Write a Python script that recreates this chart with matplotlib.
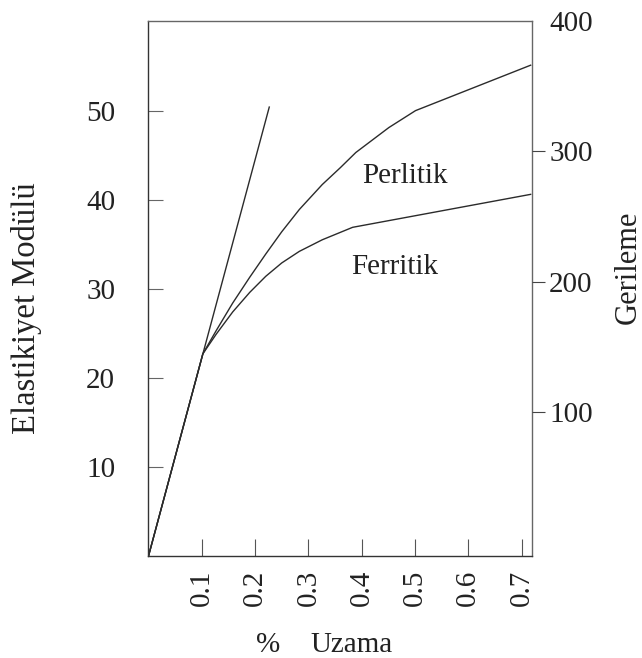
import matplotlib
matplotlib.use('Agg')
import matplotlib.pyplot as plt

plt.rcParams['font.family'] = ['Liberation Serif', 'DejaVu Serif']

# Elastic line (origin to end of the linear portion)
linear_x = [0.0, 0.2266]
linear_y = [0.0, 50.4]

# Perlitic cast iron
perlitik_x = [0.0, 0.102, 0.127, 0.158, 0.190, 0.220, 0.250, 0.283, 0.326, 0.360,
              0.389, 0.420, 0.451, 0.501, 0.717]
perlitik_y = [0.0, 22.7, 25.3, 28.4, 31.3, 33.9, 36.4, 38.9, 41.7, 43.6,
              45.3, 46.7, 48.1, 50.0, 55.1]

# Ferritic cast iron
ferritik_x = [0.0, 0.102, 0.127, 0.158, 0.190, 0.220, 0.250, 0.283, 0.326, 0.383, 0.717]
ferritik_y = [0.0, 22.7, 24.9, 27.4, 29.6, 31.4, 32.9, 34.2, 35.5, 36.9, 40.6]

x_ticks = [0.1, 0.2, 0.3, 0.4, 0.5, 0.6, 0.7]
left_ticks = [10, 20, 30, 40, 50]
right_ticks = [100, 200, 300, 400]

FS = 21
line_color = '#2b2b2b'

fig = plt.figure(figsize=(6.42, 6.58), dpi=100)
ax = fig.add_axes([0.2313, 0.1550, 0.5969, 0.8136])

ax.plot(linear_x, linear_y, color=line_color, lw=1.0)
ax.plot(perlitik_x, perlitik_y, color=line_color, lw=1.0)
ax.plot(ferritik_x, ferritik_y, color=line_color, lw=1.0)

ax.set_xlim(0, 0.719)
ax.set_ylim(0, 60.1)

ax.set_xticks(x_ticks)
ax.set_xticklabels([f'{v:.1f}' for v in x_ticks], rotation=90, fontsize=FS)
ax.set_yticks(left_ticks)
ax.set_yticklabels([str(v) for v in left_ticks], fontsize=FS)
ax.tick_params(axis='x', direction='in', length=12.2, width=0.8, color='#555555',
               pad=10, labelcolor='#222222')
ax.tick_params(axis='y', direction='in', length=10.8, width=0.8, color='#666666',
               pad=24, labelcolor='#222222')

for side in ['left', 'bottom']:
    ax.spines[side].set_color('#333333')
    ax.spines[side].set_linewidth(1.0)
for side in ['top', 'right']:
    ax.spines[side].set_color('#666666')
    ax.spines[side].set_linewidth(1.0)

# secondary stress scale on the right
ax2 = ax.twinx()
ax2.set_ylim(-10, 400)
ax2.set_yticks(right_ticks)
ax2.set_yticklabels([str(v) for v in right_ticks], fontsize=FS)
ax2.tick_params(axis='y', direction='out', length=9.6, width=0.8, color='#444444',
                pad=3, labelcolor='#222222')
ax2.yaxis.get_major_ticks()[-1].tick2line.set_visible(False)
for side in ['top', 'right', 'left', 'bottom']:
    ax2.spines[side].set_visible(False)

ax.text(0.482, 41.9, 'Perlitik', fontsize=FS, ha='center', va='baseline', color='#222222')
ax.text(0.4615, 31.7, 'Ferritik', fontsize=FS, ha='center', va='baseline', color='#222222')

fig.text(27 / 642, (658 - 308) / 658, 'Elastikiyet Modülü', rotation=90,
         fontsize=23.5, ha='center', va='center', color='#222222')
fig.text(628 / 642, (658 - 267) / 658, 'Gerileme', rotation=90,
         fontsize=22, ha='center', va='center', color='#222222')
fig.text(268 / 642, 0.0091, '%', fontsize=FS, ha='center', va='baseline', color='#222222')
fig.text(351.5 / 642, 0.0091, 'Uzama', fontsize=FS, ha='center', va='baseline', color='#222222')

fig.savefig('out.png', dpi=100)
